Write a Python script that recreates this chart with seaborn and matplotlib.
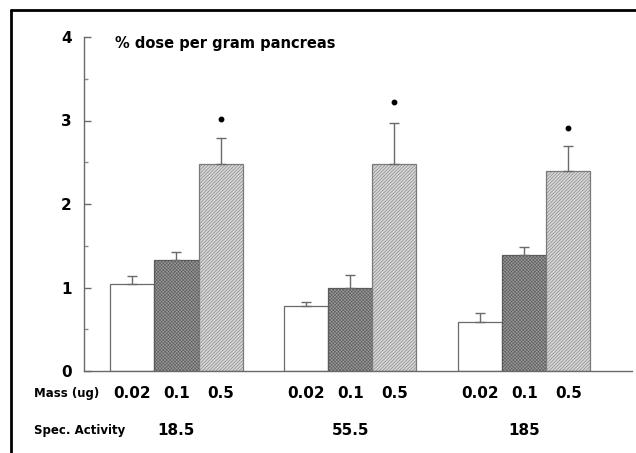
import matplotlib
matplotlib.use("Agg")
import matplotlib.pyplot as plt
import matplotlib.transforms as mtransforms
from matplotlib.lines import Line2D
import seaborn as sns
import pandas as pd

# ---- data ----
groups = ["18.5", "55.5", "185"]
masses = ["0.02", "0.1", "0.5"]
mass_002 = [1.04, 0.78, 0.59]
mass_01 = [1.33, 0.99, 1.39]
mass_05 = [2.48, 2.48, 2.39]
err_002 = [0.10, 0.05, 0.10]
err_01 = [0.10, 0.16, 0.10]
err_05 = [0.31, 0.49, 0.30]
star_y = [3.02, 3.22, 2.91]
yticks = [0, 1, 2, 3, 4]

values = [mass_002, mass_01, mass_05]
errors = [err_002, err_01, err_05]

rows = []
for m, vals in zip(masses, values):
    for g, v in zip(groups, vals):
        rows.append({"group": g, "mass": m, "value": v})
df = pd.DataFrame(rows)

sns.set_theme(style="white")
plt.rcParams["font.family"] = ["DejaVu Sans"]
plt.rcParams["hatch.linewidth"] = 0.4
plt.rcParams["text.color"] = "black"
plt.rcParams["ytick.labelcolor"] = "black"

fig = plt.figure(figsize=(6.36, 4.53), dpi=100)
ax = fig.add_axes([84 / 636, 1 - 371 / 453, 548 / 636, (371 - 37) / 453])

face = ["#ffffff", "#9a9a9a", "#d6d6d6"]
sns.barplot(data=df, x="group", y="value", hue="mass", order=groups,
            hue_order=masses, palette=face, width=0.76, errorbar=None,
            legend=False, ax=ax, saturation=1)

hatches = [None, "xxxxxxxxxx", "//////////"]
edges = ["#6a6a6a", "#5a5a5a", "#7a7a7a"]
bars = [p for p in ax.patches]
centers = {}
for i, p in enumerate(bars):
    hi = i // len(groups)
    gi = i % len(groups)
    p.set_edgecolor(edges[hi])
    p.set_linewidth(0.9)
    if hatches[hi]:
        p.set_hatch(hatches[hi])
    cx = p.get_x() + p.get_width() / 2
    centers[(hi, gi)] = cx
    ax.errorbar([cx], [values[hi][gi]], yerr=[[0], [errors[hi][gi]]],
                fmt="none", ecolor="#6a6a6a", elinewidth=1.0, capsize=3.5,
                capthick=1.0, zorder=1)

# significance markers above 0.5 bars
for gi in range(len(groups)):
    ax.plot([centers[(2, gi)]], [star_y[gi]], marker="o", ms=3.2,
            color="black", linestyle="none", clip_on=False)

ax.set_xlim(-0.532, 2.62)
ax.set_ylim(0, 4)
ax.set_yticks(yticks)
ax.set_yticklabels([str(t) for t in yticks], fontsize=11, fontweight="bold",
                   color="black")
ax.set_yticks([0.5, 1.5, 2.5, 3.5], minor=True)
ax.tick_params(axis="y", which="major", direction="in", length=5, width=1,
               color="#6a6a6a", pad=9, left=True)
ax.tick_params(axis="y", which="minor", direction="in", length=3, width=1,
               color="#8a8a8a", left=True)
ax.tick_params(axis="x", bottom=False, labelbottom=False)
ax.set_xlabel("")
ax.set_ylabel("")
for s in ["top", "right"]:
    ax.spines[s].set_visible(False)
for s in ["left", "bottom"]:
    ax.spines[s].set_color("#6a6a6a")
    ax.spines[s].set_linewidth(1.0)

ax.text(0.057, 3.92, "% dose per gram pancreas",
        transform=mtransforms.blended_transform_factory(ax.transAxes, ax.transData),
        fontsize=10.5, fontweight="bold", va="center", ha="left", color="black")

# mass labels under bars
for hi, m in enumerate(masses):
    for gi in range(len(groups)):
        ax.text(centers[(hi, gi)], -0.275, m, fontsize=11, fontweight="bold",
                ha="center", va="center", clip_on=False, color="black")
# specific activity labels under group centres
for gi, g in enumerate(groups):
    ax.text(centers[(1, gi)], -0.71, g, fontsize=11, fontweight="bold",
            ha="center", va="center", clip_on=False, color="black")

bt = mtransforms.blended_transform_factory(fig.transFigure, ax.transData)
ax.text(34 / 636, -0.275, "Mass (ug)", transform=bt, fontsize=8.5,
        fontweight="bold", ha="left", va="center", clip_on=False, color="black")
ax.text(34 / 636, -0.71, "Spec. Activity", transform=bt, fontsize=8.5,
        fontweight="bold", ha="left", va="center", clip_on=False, color="black")

# frame lines (top and left) of the figure box
fig.add_artist(Line2D([10.5 / 636, 1.0], [1 - 10 / 453, 1 - 10 / 453],
                      transform=fig.transFigure, color="black", lw=2))
fig.add_artist(Line2D([10.5 / 636, 10.5 / 636], [0, 1 - 10 / 453],
                      transform=fig.transFigure, color="black", lw=2))

fig.savefig("out.png", dpi=100, facecolor="white")
